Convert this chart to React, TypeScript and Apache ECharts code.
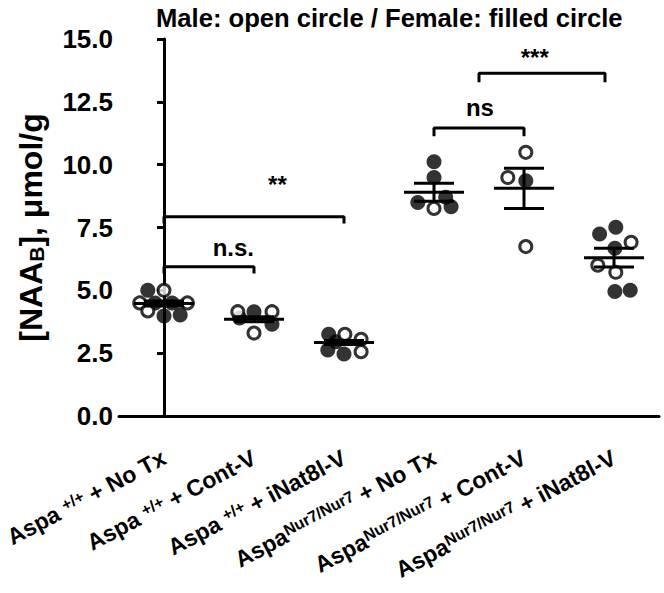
import React, { useEffect, useRef } from "react";
import * as echarts from "echarts";

// ---- data ----
const categories = [
  "Aspa {sup|+/+} + No Tx",
  "Aspa {sup|+/+} + Cont-V",
  "Aspa {sup|+/+} + iNat8l-V",
  "Aspa{sup|Nur7/Nur7} + No Tx",
  "Aspa{sup|Nur7/Nur7} + Cont-V",
  "Aspa{sup|Nur7/Nur7} + iNat8l-V",
];

// per group: values, sex (M = open, F = filled), horizontal jitter (category units)
const wtNoTxValues = [5.0, 5.0, 4.5, 4.5, 4.5, 4.5, 4.18, 3.98, 4.02];
const wtNoTxSex = ["F", "M", "M", "M", "F", "F", "M", "F", "F"];
const wtNoTxJitter = [-0.18, 0, -0.27, 0.26, -0.1, 0.09, -0.18, 0, 0.18];

const wtContValues = [4.15, 4.15, 4.15, 3.9, 3.65, 3.3];
const wtContSex = ["M", "F", "M", "F", "F", "M"];
const wtContJitter = [-0.18, 0, 0.2, -0.16, 0.2, 0];

const wtINatValues = [3.25, 3.25, 3.05, 2.95, 2.63, 2.47, 2.56];
const wtINatSex = ["F", "M", "M", "F", "F", "F", "M"];
const wtINatJitter = [-0.17, 0.01, 0.19, -0.09, -0.18, 0, 0.19];

const nurNoTxValues = [10.12, 9.49, 8.7, 8.49, 8.26, 8.33];
const nurNoTxSex = ["F", "F", "F", "F", "M", "F"];
const nurNoTxJitter = [0, 0, 0.13, -0.18, 0, 0.19];

const nurContValues = [10.49, 9.49, 9.36, 6.74];
const nurContSex = ["M", "M", "F", "M"];
const nurContJitter = [0.02, -0.18, 0.02, 0.02];

const nurINatValues = [7.24, 7.51, 6.91, 6.67, 6.0, 5.72, 4.95, 5.0];
const nurINatSex = ["F", "F", "M", "F", "M", "M", "F", "F"];
const nurINatJitter = [-0.16, 0.02, 0.19, 0.01, -0.18, 0.02, 0.01, 0.18];

const groupMeans = [4.48, 3.85, 2.92, 8.9, 9.06, 6.3];
const groupSem = [0.1, 0.1, 0.08, 0.36, 0.8, 0.37];

const yTicks = [0, 2.5, 5, 7.5, 10, 12.5, 15];

// significance brackets: from, to (category index), top value, leg drop
const bracketFrom = [0, 0, 3, 3.5];
const bracketTo = [1, 2, 4, 4.9];
const bracketTop = [5.94, 7.93, 11.46, 13.64];
const bracketLeg = [0.27, 0.27, 0.33, 0.36];
const sigLabels = ["n.s.", "**", "ns", "***"];
const sigX = [0.77, 1.26, 3.51, 4.12];
const sigY = [6.72, 9.2, 12.26, 14.25];

const groups = [
  [wtNoTxValues, wtNoTxSex, wtNoTxJitter],
  [wtContValues, wtContSex, wtContJitter],
  [wtINatValues, wtINatSex, wtINatJitter],
  [nurNoTxValues, nurNoTxSex, nurNoTxJitter],
  [nurContValues, nurContSex, nurContJitter],
  [nurINatValues, nurINatSex, nurINatJitter],
] as [number[], string[], number[]][];

export default function App() {
  const ref = useRef<HTMLDivElement>(null);
  useEffect(() => {
    if (!ref.current) return;
    const chart = echarts.init(ref.current, null, { renderer: "svg" });
    const male: number[][] = [];
    const female: number[][] = [];
    groups.forEach(([vals, sex, jit], gi) => {
      vals.forEach((v, k) => {
        const p = [gi + jit[k], v];
        if (sex[k] === "M") male.push(p);
        else female.push(p);
      });
    });
    const font = "Arial, 'Liberation Sans', sans-serif";
    const bracketSeries = bracketFrom.map((f, i) => ({
      type: "line",
      xAxisIndex: 1,
      symbol: "none",
      lineStyle: { color: "#000", width: 3 },
      data: [
        [f, bracketTop[i] - bracketLeg[i]],
        [f, bracketTop[i]],
        [bracketTo[i], bracketTop[i]],
        [bracketTo[i], bracketTop[i] - bracketLeg[i]],
      ],
      z: 3,
    }));
    chart.setOption({
      animation: false,
      title: {
        text: "Male: open circle / Female: filled circle",
        left: 151,
        top: 0,
        textStyle: { fontFamily: font, fontWeight: "bold", fontSize: 25.6, color: "#000" },
      },
      grid: { left: 119, right: 5, top: 39, bottom: 177, containLabel: false, outerBoundsMode: "none" },
      xAxis: [
        {
          type: "category",
          data: categories,
          axisLine: { lineStyle: { color: "#000", width: 3 } },
          axisTick: { alignWithLabel: true, length: 8, lineStyle: { color: "#000", width: 3 } },
          axisLabel: {
            interval: 0,
            rotate: 28,
            margin: 40,
            color: "#000",
            fontFamily: font,
            fontWeight: "bold",
            fontSize: 23,
            rich: {
              sup: {
                fontFamily: font,
                fontWeight: "bold",
                fontSize: 16,
                color: "#000",
                verticalAlign: "top",
              },
            },
          },
        },
        { type: "value", min: -0.5, max: 5.5, show: false },
      ],
      yAxis: {
        type: "value",
        min: 0,
        max: 15,
        interval: 2.5,
        splitLine: { show: false },
        axisLine: { show: true, lineStyle: { color: "#000", width: 3 } },
        axisTick: { show: true, length: 7, lineStyle: { color: "#000", width: 3 } },
        axisLabel: {
          margin: 6,
          color: "#000",
          fontFamily: font,
          fontWeight: "bold",
          fontSize: 26,
          formatter: (v: number) => (yTicks.includes(v) ? v.toFixed(1) : ""),
        },
        name: "[NAA{sub|B}], μmol/g",
        nameLocation: "middle",
        nameRotate: 90,
        nameGap: 72,
        nameTextStyle: {
          fontFamily: font,
          fontWeight: "bold",
          fontSize: 32,
          color: "#000",
          rich: {
            sub: {
              fontFamily: font,
              fontWeight: "bold",
              fontSize: 21,
              color: "#000",
              verticalAlign: "bottom",
            },
          },
        },
      },
      series: [
        {
          type: "scatter",
          name: "Female",
          xAxisIndex: 1,
          symbol: "circle",
          symbolSize: 15,
          itemStyle: { color: "#000" },
          data: female,
          z: 4,
        },
        {
          type: "scatter",
          name: "Male",
          xAxisIndex: 1,
          symbol: "circle",
          symbolSize: 12,
          itemStyle: { color: "#fff", borderColor: "#000", borderWidth: 3 },
          data: male,
          z: 5,
        },
        {
          type: "custom",
          xAxisIndex: 1,
          z: 6,
          data: groupMeans.map((m, i) => [i, m, groupSem[i]]),
          renderItem: (params: any, api: any) => {
            const x = api.value(0);
            const m = api.value(1);
            const s = api.value(2);
            const c = api.coord([x, m]);
            const hi = api.coord([x, m + s]);
            const lo = api.coord([x, m - s]);
            const st = { stroke: "#000", lineWidth: 3 };
            return {
              type: "group",
              children: [
                { type: "line", shape: { x1: c[0] - 30, y1: c[1], x2: c[0] + 30, y2: c[1] }, style: st },
                { type: "line", shape: { x1: c[0], y1: hi[1], x2: c[0], y2: lo[1] }, style: st },
                { type: "line", shape: { x1: c[0] - 20, y1: hi[1], x2: c[0] + 20, y2: hi[1] }, style: st },
                { type: "line", shape: { x1: c[0] - 20, y1: lo[1], x2: c[0] + 20, y2: lo[1] }, style: st },
              ],
            };
          },
        },
        ...bracketSeries,
        {
          type: "custom",
          xAxisIndex: 1,
          z: 7,
          data: sigLabels.map((t, i) => [sigX[i], sigY[i], i]),
          renderItem: (params: any, api: any) => {
            const c = api.coord([api.value(0), api.value(1)]);
            const idx = api.value(2);
            return {
              type: "text",
              x: c[0],
              y: c[1],
              style: {
                text: sigLabels[idx],
                fill: "#000",
                font: `bold 24px ${font}`,
                align: "center",
                verticalAlign: "middle",
              },
            };
          },
        },
      ],
    });
    return () => chart.dispose();
  }, []);
  return <div ref={ref} style={{ width: 664, height: 593, position: "absolute", left: 0, top: 0 }} />;
}
